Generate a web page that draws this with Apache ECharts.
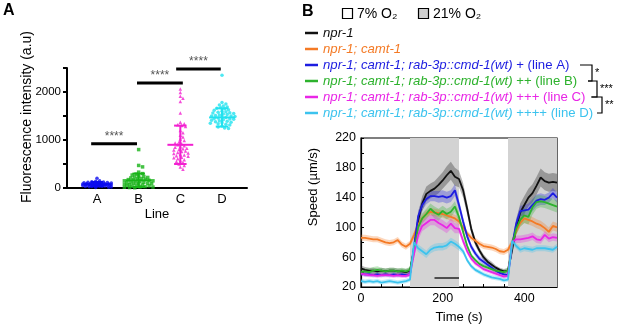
<!DOCTYPE html>
<html>
<head>
<meta charset="utf-8">
<script src="https://cdn.jsdelivr.net/npm/echarts@6/dist/echarts.min.js"></script>
<style>
  html, body { margin: 0; padding: 0; background: #fff; }
  #chart { width: 617px; height: 326px; }
</style>
</head>
<body>
<div id="chart"></div>
<script>
const FONT = '"Liberation Sans", Arial, sans-serif'

// ---------- panel A : fluorescence per line ----------
const lineCats = ['A', 'B', 'C', 'D']
const lineColors = ['#0b0bef', '#17b317', '#f21fd0', '#22e2ef']
const lineSymbols = ['circle', 'rect', 'triangle', 'circle']
const fluorA = [205, 150, 140, 130, 125, 120, 115, 110, 105, 100, 100, 95, 95, 90, 90, 85, 85, 80, 80, 80,
  75, 75, 70, 70, 70, 65, 65, 60, 60, 60, 55, 55, 50, 50, 45, 45, 40, 40, 35, 30, 30, 25, 20, 15, 10]
const fluorB = [800, 470, 440, 330, 300, 290, 270, 250, 240, 230, 220, 210, 200, 190, 180, 175, 170, 160,
  150, 150, 140, 130, 125, 120, 110, 100, 100, 90, 85, 80, 70, 65, 60, 50, 45, 40, 30, 25, 20, 15, 10, 5]
const fluorC = [2060, 1990, 1910, 1870, 1800, 1560, 1370, 1340, 1320, 1300, 1280, 1200, 1150, 1100, 1060,
  1020, 990, 960, 940, 920, 900, 880, 860, 850, 830, 820, 800, 790, 770, 760, 740, 730, 720, 700, 690, 670,
  660, 640, 630, 610, 590, 570, 550, 530, 500, 470, 440, 390]
const fluorD = [2350, 1780, 1750, 1730, 1710, 1690, 1670, 1660, 1650, 1630, 1620, 1600, 1590, 1580, 1570,
  1560, 1550, 1540, 1530, 1520, 1510, 1500, 1500, 1490, 1480, 1470, 1460, 1450, 1440, 1430, 1420, 1410,
  1400, 1390, 1380, 1370, 1360, 1350, 1340, 1330, 1310, 1290, 1270, 1250, 1240]
const fluorGroups = [fluorA, fluorB, fluorC, fluorD]
// mean, sd as drawn
const fluorMean = [80, 160, 900, 1470]
const fluorSd = [45, 140, 400, 190]
// significance bars: x from, x to, height
const sigBars = [[0.86, 1.96, 920], [1.96, 3.06, 2190], [2.9, 3.97, 2480]]

// ---------- panel B : speed over time ----------
const timeS = [0, 10, 20, 30, 40, 50, 60, 70, 80, 90, 100, 110, 120, 130, 140, 150, 160, 170, 180, 190, 200,
  210, 220, 230, 240, 250, 260, 270, 280, 290, 300, 310, 320, 330, 340, 350, 360, 370, 380, 390, 400, 410,
  420, 430, 440, 450, 460, 470, 480]
const o2High = [[120, 240], [360, 480]]
const scaleBar = [[180, 32], [240, 32]]

const genoNames = ['npr-1', 'npr-1; camt-1', 'npr-1; camt-1; rab-3p::cmd-1(wt)', 'npr-1; camt-1; rab-3p::cmd-1(wt)',
  'npr-1; camt-1; rab-3p::cmd-1(wt)', 'npr-1; camt-1; rab-3p::cmd-1(wt)']
const genoSuffix = ['', '', ' + (line A)', ' ++ (line B)', ' +++ (line C)', ' ++++ (line D)']
const genoColors = ['#111111', '#f47a25', '#1d1de0', '#2db22d', '#e926e6', '#3cc3ee']

const speedNpr1 = [45, 43, 42, 42, 41, 42, 41, 42, 42, 41, 41, 40, 42, 70, 110, 132, 145, 149, 152, 157, 163,
  170, 176, 168, 165, 150, 125, 98, 80, 69, 60, 54, 50, 46, 43, 41, 42, 70, 100, 120, 130, 140, 146, 156, 167,
  162, 160, 161, 160]
const speedCamt = [86, 86, 85, 84, 84, 82, 80, 79, 80, 83, 77, 74, 78, 90, 104, 112, 118, 121, 120, 119, 118,
  116, 114, 112, 108, 100, 92, 86, 82, 78, 75, 74, 73, 71, 68, 67, 70, 80, 95, 106, 112, 110, 108, 105, 103,
  99, 94, 102, 100]
const speedLineA = [38, 37, 37, 36, 37, 36, 37, 36, 37, 36, 37, 36, 37, 75, 115, 130, 138, 142, 142, 141, 142,
  140, 142, 150, 130, 108, 88, 74, 65, 58, 54, 50, 46, 42, 39, 37, 36, 75, 105, 122, 123, 124, 130, 136, 138,
  137, 140, 146, 140]
const speedLineB = [40, 41, 40, 42, 43, 42, 41, 42, 42, 41, 42, 41, 43, 70, 100, 112, 118, 125, 120, 117, 122,
  118, 121, 128, 114, 94, 75, 62, 56, 51, 48, 46, 44, 42, 41, 40, 42, 75, 98, 110, 116, 114, 127, 134, 135,
  134, 132, 130, 128]
const speedLineC = [38, 37, 36, 36, 35, 36, 36, 36, 35, 36, 35, 35, 37, 65, 90, 102, 106, 110, 110, 106, 103,
  99, 105, 99, 98, 82, 68, 58, 52, 48, 44, 42, 40, 38, 36, 34, 35, 80, 84, 84, 85, 86, 88, 84, 83, 90, 85, 87, 86]
const speedLineD = [28, 27, 28, 27, 28, 26, 27, 28, 27, 26, 27, 28, 30, 80, 72, 68, 64, 70, 73, 74, 74, 76, 81,
  78, 74, 68, 56, 48, 43, 40, 37, 35, 33, 32, 31, 29, 30, 82, 75, 70, 72, 71, 70, 72, 72, 72, 71, 70, 74]
const speedMeans = [speedNpr1, speedCamt, speedLineA, speedLineB, speedLineC, speedLineD]

const semNpr1 = [4, 4, 4, 4, 4, 4, 4, 4, 4, 4, 4, 4, 4, 8, 10, 10, 10, 10, 10, 11, 11, 12, 12, 12, 11, 10, 8, 6,
  5, 4, 4, 4, 4, 3, 3, 3, 4, 8, 10, 12, 12, 12, 12, 12, 12, 12, 12, 12, 12]
const semCamt = [4, 4, 4, 4, 4, 4, 4, 4, 4, 4, 4, 4, 4, 5, 5, 5, 5, 5, 5, 5, 5, 5, 5, 5, 5, 4, 4, 4, 4, 4, 4, 4,
  4, 4, 4, 4, 4, 5, 5, 5, 6, 6, 6, 6, 6, 6, 6, 6, 6]
const semLineA = [3, 3, 3, 3, 3, 3, 3, 3, 3, 3, 3, 3, 3, 6, 7, 7, 7, 7, 7, 8, 8, 8, 8, 8, 7, 6, 5, 4, 4, 4, 4, 4,
  4, 4, 3, 3, 3, 6, 7, 7, 7, 8, 8, 8, 8, 7, 7, 7, 7]
const semLineB = [4, 4, 5, 5, 5, 4, 4, 4, 4, 4, 4, 4, 4, 6, 7, 7, 7, 7, 8, 8, 7, 7, 7, 7, 7, 5, 4, 3, 3, 3, 3, 3,
  3, 3, 3, 3, 3, 7, 8, 9, 10, 10, 10, 9, 8, 8, 8, 8, 8]
const semLineC = [3, 3, 3, 3, 3, 3, 3, 3, 3, 3, 3, 3, 3, 6, 7, 7, 7, 7, 7, 7, 7, 7, 7, 7, 6, 5, 4, 3, 3, 3, 3, 3,
  3, 3, 3, 3, 3, 5, 5, 5, 5, 5, 5, 5, 5, 5, 5, 5, 5]
const semLineD = [3, 3, 3, 3, 3, 3, 3, 3, 3, 3, 3, 3, 3, 5, 5, 5, 5, 5, 5, 5, 5, 5, 5, 5, 5, 4, 3, 3, 3, 3, 3, 3,
  3, 3, 3, 3, 3, 4, 4, 4, 4, 4, 4, 4, 4, 4, 4, 4, 4]
const speedSems = [semNpr1, semCamt, semLineA, semLineB, semLineC, semLineD]

// spread dots sideways (rough beeswarm) using approx pixel scale of grid A,
// capped at +-15px; when nothing is free take the least crowded slot
function swarm(values, center) {
  const pyPerUnit = 120 / 2500, pxPerUnit = 41.7, minDist = 3, step = 1.3, maxOff = 15
  const placed = []
  const out = []
  values.slice().sort((a, b) => b - a).forEach(v => {
    const py = v * pyPerUnit
    let best = 0, bestD = -1
    for (let k = 0; ; k++) {
      const off = (k % 2 ? 1 : -1) * Math.ceil(k / 2) * step
      if (Math.abs(off) > maxOff) break
      const d = placed.reduce((m, p) => Math.min(m, Math.hypot(p[0] - off, p[1] - py)), Infinity)
      if (d >= minDist) { best = off; break }
      if (d > bestD) { bestD = d; best = off }
    }
    placed.push([best, py])
    out.push([center + best / pxPerUnit, v])
  })
  return out
}

function hexA(hex, a) {
  const n = parseInt(hex.slice(1), 16)
  return `rgba(${n >> 16},${(n >> 8) & 255},${n & 255},${a})`
}

const chart = echarts.init(document.getElementById('chart'))

const series = []

// A: dots
fluorGroups.forEach((vals, i) => {
  series.push({
    type: 'scatter', xAxisIndex: 0, yAxisIndex: 0,
    symbol: lineSymbols[i], symbolSize: 3.5,
    itemStyle: { color: lineColors[i] },
    data: swarm(vals, i + 1),
    z: 2
  })
})

// A: mean +- sd
series.push({
  type: 'custom', xAxisIndex: 0, yAxisIndex: 0,
  data: fluorMean.map((m, i) => [i + 1, m, fluorSd[i]]),
  encode: { x: 0, y: 1 },
  z: 3,
  renderItem: (params, api) => {
    const x = api.value(0), m = api.value(1), sd = api.value(2)
    const c = api.coord([x, m])
    const hi = api.coord([x, m + sd])
    const lo = api.coord([x, Math.max(m - sd, 0)])
    const half = api.size([0.31, 0])[0]
    const cap = api.size([0.15, 0])[0]
    const stroke = lineColors[params.dataIndex]
    const st = { stroke, lineWidth: 2 }
    return {
      type: 'group', children: [
        { type: 'line', shape: { x1: c[0] - half, y1: c[1], x2: c[0] + half, y2: c[1] }, style: st },
        { type: 'line', shape: { x1: c[0], y1: hi[1], x2: c[0], y2: lo[1] }, style: st },
        { type: 'line', shape: { x1: c[0] - cap, y1: hi[1], x2: c[0] + cap, y2: hi[1] }, style: st },
        { type: 'line', shape: { x1: c[0] - cap, y1: lo[1], x2: c[0] + cap, y2: lo[1] }, style: st }
      ]
    }
  }
})

// A: significance bars
series.push({
  type: 'custom', xAxisIndex: 0, yAxisIndex: 0,
  data: sigBars,
  encode: { x: [0, 1], y: 2 },
  z: 4,
  renderItem: (params, api) => {
    const p1 = api.coord([api.value(0), api.value(2)])
    const p2 = api.coord([api.value(1), api.value(2)])
    return {
      type: 'group', children: [
        { type: 'line', shape: { x1: p1[0], y1: p1[1], x2: p2[0], y2: p2[1] }, style: { stroke: '#000', lineWidth: 3 } },
        {
          type: 'text', x: (p1[0] + p2[0]) / 2, y: p1[1] - 1,
          style: { text: '****', fill: '#555', fontSize: 12, fontFamily: FONT, align: 'center', verticalAlign: 'bottom' }
        }
      ]
    }
  }
})

// B: 21% O2 shading
series.push({
  type: 'line', xAxisIndex: 1, yAxisIndex: 1, data: [], z: 1,
  markArea: {
    silent: true,
    itemStyle: { color: '#d3d3d3' },
    data: o2High.map(p => [{ xAxis: p[0] }, { xAxis: p[1] }])
  }
})

// B: sem bands
speedMeans.forEach((mean, gi) => {
  const rows = timeS.map((t, i) => [t, mean[i] - speedSems[gi][i], mean[i] + speedSems[gi][i]])
  series.push({
    type: 'custom', xAxisIndex: 1, yAxisIndex: 1, silent: true, clip: true, z: 2,
    data: rows,
    encode: { x: 0, y: [1, 2] },
    renderItem: (params, api) => {
      if (params.dataIndex !== 0) return null
      const top = rows.map(r => api.coord([r[0], r[2]]))
      const bot = rows.map(r => api.coord([r[0], r[1]])).reverse()
      return { type: 'polygon', shape: { points: top.concat(bot) }, style: { fill: hexA(genoColors[gi], 0.3) } }
    }
  })
})

// B: mean lines
speedMeans.forEach((mean, gi) => {
  series.push({
    type: 'line', xAxisIndex: 1, yAxisIndex: 1, z: 3,
    showSymbol: false, silent: true,
    data: timeS.map((t, i) => [t, mean[i]]),
    lineStyle: { color: genoColors[gi], width: 1.8 },
    itemStyle: { color: genoColors[gi] }
  })
})

// B: time scale bar
series.push({
  type: 'line', xAxisIndex: 1, yAxisIndex: 1, z: 4, showSymbol: false, silent: true,
  data: scaleBar, lineStyle: { color: '#222', width: 1.5 }
})

// ---- text / legends drawn as graphics ----
const graphic = [
  { type: 'text', left: 3, top: 3, style: { text: 'A', fontSize: 16, fontWeight: 'bold', fontFamily: FONT, fill: '#000' } },
  { type: 'text', left: 302, top: 4, style: { text: 'B', fontSize: 16, fontWeight: 'bold', fontFamily: FONT, fill: '#000' } },
  {
    type: 'text', x: 27, y: 117, rotation: Math.PI / 2,
    style: { text: 'Fluorescence intensity (a.u)', fontSize: 14, fontFamily: FONT, fill: '#000', align: 'center', verticalAlign: 'middle' }
  },
  {
    type: 'text', x: 313, y: 187, rotation: Math.PI / 2,
    style: { text: 'Speed (µm/s)', fontSize: 13, fontFamily: FONT, fill: '#000', align: 'center', verticalAlign: 'middle' }
  },
  { type: 'rect', shape: { x: 342.5, y: 8.5, width: 10, height: 10 }, style: { fill: '#fff', stroke: '#000', lineWidth: 1.2 } },
  { type: 'text', x: 357, y: 14, style: { text: '7% O₂', fontSize: 14, fontFamily: FONT, fill: '#000', verticalAlign: 'middle' } },
  { type: 'rect', shape: { x: 418.5, y: 8.5, width: 10, height: 10 }, style: { fill: '#cfcfcf', stroke: '#000', lineWidth: 1.2 } },
  { type: 'text', x: 433, y: 14, style: { text: '21% O₂', fontSize: 14, fontFamily: FONT, fill: '#000', verticalAlign: 'middle' } }
]

genoNames.forEach((name, i) => {
  const y = 33 + i * 16
  const c = genoColors[i]
  graphic.push({ type: 'line', shape: { x1: 305, y1: y, x2: 318, y2: y }, style: { stroke: c, lineWidth: 2.5 } })
  graphic.push({
    type: 'text', x: 323, y: y,
    style: {
      text: `{i|${name}}{n|${genoSuffix[i]}}`,
      verticalAlign: 'middle',
      rich: {
        i: { fontStyle: 'italic', fontSize: 13.2, fontFamily: FONT, fill: c },
        n: { fontSize: 13.2, fontFamily: FONT, fill: c }
      }
    }
  })
})

// brackets between legend rows
const brackets = [
  { pts: [[580, 65], [592, 65], [592, 81], [588, 81]], star: '*', sx: 595, sy: 73 },
  { pts: [[588, 81], [597, 81], [597, 97], [591, 97]], star: '***', sx: 600, sy: 89 },
  { pts: [[592, 97], [602, 97], [602, 113], [597, 113]], star: '**', sx: 605, sy: 105 }
]
brackets.forEach(b => {
  graphic.push({ type: 'polyline', shape: { points: b.pts }, style: { stroke: '#000', lineWidth: 1.2, fill: null } })
  graphic.push({ type: 'text', x: b.sx, y: b.sy, style: { text: b.star, fontSize: 11, fontFamily: FONT, fill: '#000', verticalAlign: 'middle' } })
})

const axisText = { color: '#000', fontFamily: FONT }

chart.setOption({
  animation: false,
  grid: [
    { left: 67, top: 68, width: 180, height: 120 },
    { left: 361, top: 138, width: 196, height: 149, show: true, borderColor: '#000', borderWidth: 1.2 }
  ],
  xAxis: [
    {
      gridIndex: 0, type: 'value', min: 0.28, max: 4.6,
      name: 'Line', nameLocation: 'middle', nameGap: 20,
      nameTextStyle: { ...axisText, fontSize: 13 },
      axisLine: { lineStyle: { color: '#000', width: 2 } },
      axisTick: { show: false },
      splitLine: { show: false },
      axisLabel: {
        ...axisText, fontSize: 13, margin: 5,
        customValues: [1, 2, 3, 4],
        formatter: v => lineCats[Math.round(v) - 1] || ''
      }
    },
    {
      gridIndex: 1, type: 'value', min: 0, max: 480,
      name: 'Time (s)', nameLocation: 'middle', nameGap: 24,
      nameTextStyle: { ...axisText, fontSize: 13 },
      axisLine: { lineStyle: { color: '#000', width: 1.2 } },
      axisTick: { inside: true, length: 3, customValues: [0, 50, 100, 150, 200, 250, 300, 350, 400, 450], lineStyle: { color: '#000' } },
      splitLine: { show: false },
      axisLabel: { ...axisText, fontSize: 12.5, margin: 5, customValues: [0, 200, 400] }
    }
  ],
  yAxis: [
    {
      gridIndex: 0, type: 'value', min: 0, max: 2500, interval: 500,
      axisLine: { show: true, lineStyle: { color: '#000', width: 2 } },
      axisTick: { show: true, length: 4, lineStyle: { color: '#000', width: 2 } },
      splitLine: { show: false },
      axisLabel: { ...axisText, fontSize: 11.5, margin: 6, formatter: v => (v % 1000 === 0 ? v : '') }
    },
    {
      gridIndex: 1, type: 'value', min: 20, max: 220, interval: 20,
      axisLine: { show: true, lineStyle: { color: '#000', width: 1.2 } },
      axisTick: { show: true, inside: true, length: 3, lineStyle: { color: '#000' } },
      splitLine: { show: false },
      axisLabel: { ...axisText, fontSize: 12.5, margin: 5, formatter: v => ((v - 20) % 40 === 0 ? v : '') }
    }
  ],
  graphic,
  series
})
</script>
</body>
</html>
